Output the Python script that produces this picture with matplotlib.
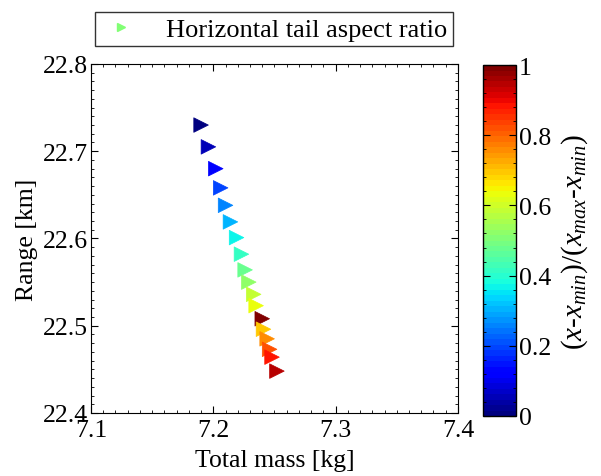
import matplotlib
matplotlib.use("Agg")
import matplotlib.pyplot as plt
from matplotlib.ticker import MultipleLocator
from matplotlib.lines import Line2D

plt.rcParams['font.family'] = ['Liberation Serif', 'DejaVu Serif']
plt.rcParams['mathtext.fontset'] = 'custom'
plt.rcParams['mathtext.rm'] = 'Liberation Serif'
plt.rcParams['mathtext.it'] = 'Liberation Serif:italic'

# Total mass [kg] vs range [km], coloured by normalised horizontal tail aspect ratio
total_mass = [7.190, 7.196, 7.202, 7.206, 7.210, 7.214, 7.219, 7.223, 7.226,
              7.229, 7.233, 7.235, 7.240, 7.241, 7.244, 7.246, 7.248, 7.252]
range_km = [22.730, 22.705, 22.680, 22.658, 22.638, 22.619, 22.601, 22.582, 22.564,
            22.550, 22.536, 22.523, 22.508, 22.496, 22.485, 22.473, 22.464, 22.448]
norm_value = [0.00, 0.06, 0.12, 0.20, 0.26, 0.31, 0.36, 0.41, 0.47,
              0.52, 0.58, 0.64, 1.00, 0.70, 0.76, 0.82, 0.88, 0.95]
legend_label = 'Horizontal tail aspect ratio'

cmap = plt.get_cmap('jet', 64)

fig = plt.figure(figsize=(6.01, 4.77), dpi=100)
ax = fig.add_axes([0.1514, 0.1321, 0.6106, 0.7317])
cax = fig.add_axes([0.8037, 0.1258, 0.0549, 0.7358])

sc = ax.scatter(total_mass, range_km, c=norm_value, cmap=cmap, vmin=0, vmax=1,
                marker='>', s=110, linewidths=0.5, edgecolors='face')

ax.set_xlim(7.1, 7.4)
ax.set_ylim(22.4, 22.8)
ax.xaxis.set_major_locator(MultipleLocator(0.1))
ax.yaxis.set_major_locator(MultipleLocator(0.1))
ax.xaxis.set_minor_locator(MultipleLocator(0.01))
ax.yaxis.set_minor_locator(MultipleLocator(0.01))
ax.tick_params(which='both', direction='in', top=True, right=True, labelsize=18.5)
ax.tick_params(which='major', length=5, pad=4)
ax.tick_params(which='minor', length=2.5)
ax.tick_params(axis='y', which='major', pad=2)
ax.set_xlabel('Total mass [kg]', fontsize=18.5, labelpad=6)
ax.set_ylabel('Range [km]', fontsize=18.5, labelpad=4)

cb = fig.colorbar(sc, cax=cax)
cb.set_ticks([0, 0.2, 0.4, 0.6, 0.8, 1])
cb.set_ticklabels(['0', '0.2', '0.4', '0.6', '0.8', '1'])
cax.yaxis.set_minor_locator(MultipleLocator(0.04))
cax.tick_params(which='both', direction='in', left=True, right=True, labelsize=18.5)
cax.tick_params(which='major', length=5, pad=2)
cax.tick_params(which='minor', length=2.5)
cb.outline.set_linewidth(1)
cb.set_label(r'$\mathrm{(}x\mathrm{\text{-}}x_{min}\mathrm{)/(}x_{max}\mathrm{\text{-}}x_{min}\mathrm{)}$',
             fontsize=21, labelpad=6)

# legend entry shows a small light-green marker, as in the original figure
handle = Line2D([], [], marker='>', linestyle='none', markersize=6,
                color=cmap(0.5), markeredgecolor=cmap(0.5))
leg = ax.legend([handle], [legend_label], loc='center',
                bbox_to_anchor=(0.4559, 0.9371), bbox_transform=fig.transFigure,
                fontsize=19, frameon=True, fancybox=False, edgecolor='black',
                handletextpad=0.9, handlelength=1.6, borderpad=0.2)
leg.get_frame().set_linewidth(1)

fig.savefig('out.png', dpi=100)
